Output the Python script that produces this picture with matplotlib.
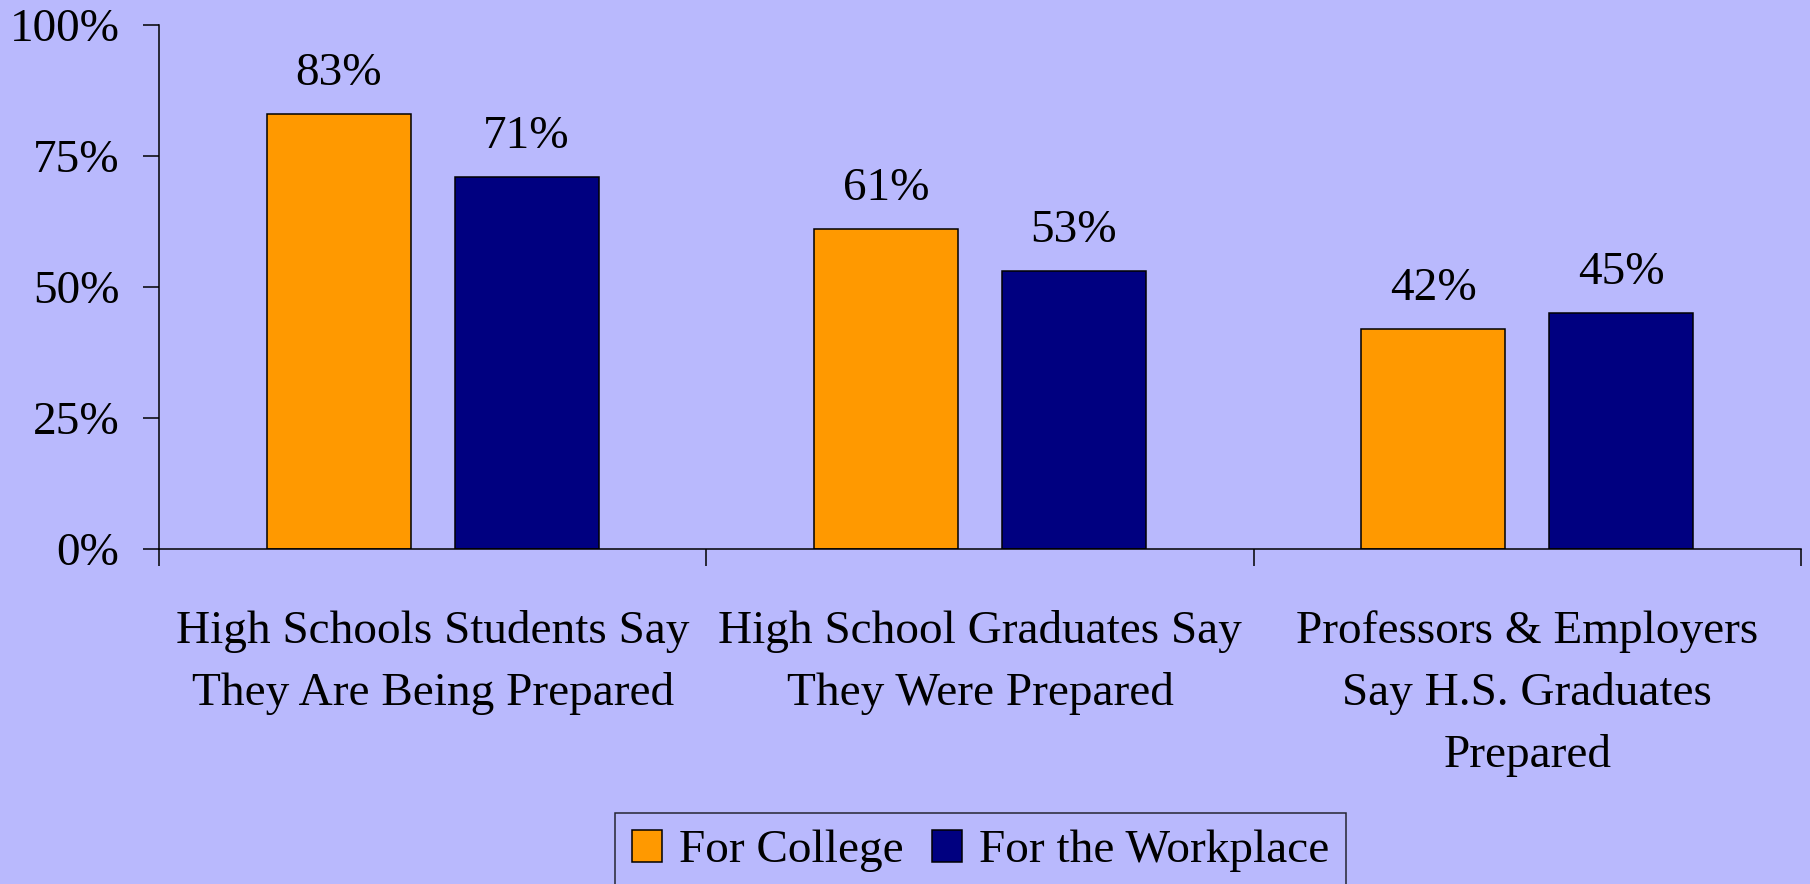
import matplotlib
matplotlib.use("Agg")
import matplotlib.pyplot as plt
import numpy as np

categories = [
    "High Schools Students Say\nThey Are Being Prepared",
    "High School Graduates Say\nThey Were Prepared",
    "Professors & Employers\nSay H.S. Graduates\nPrepared",
]
series_names = ["For College", "For the Workplace"]
college = [83, 61, 42]
workplace = [71, 53, 45]
yticks = [0, 25, 50, 75, 100]
ytick_labels = ["0%", "25%", "50%", "75%", "100%"]

bg = "#B9B9FD"
colors = ["#FF9900", "#000080"]

plt.rcParams["font.family"] = ["Liberation Serif", "DejaVu Serif"]
fs = 34

fig = plt.figure(figsize=(18.1, 8.84), dpi=100, facecolor=bg)
ax = fig.add_axes([159 / 1810, 1 - 549 / 884, (1801 - 159) / 1810, (549 - 25) / 884])
ax.set_facecolor(bg)

x = np.arange(len(categories))
width = 0.263
offset = 0.1717
for vals, off, col, name in zip([college, workplace], [-offset, offset], colors, series_names):
    bars = ax.bar(x + off, vals, width, color=col, edgecolor="black", linewidth=1.1, label=name)
    for b, v in zip(bars, vals):
        ax.annotate(f"{v}%", (b.get_x() + b.get_width() / 2, v), xytext=(0, 21),
                    textcoords="offset points", ha="center", va="baseline", fontsize=fs)

ax.set_xlim(-0.5, 2.5)
ax.set_ylim(0, 100)
ax.set_yticks(yticks)
ax.set_yticklabels(ytick_labels, fontsize=fs)
ax.tick_params(axis="y", direction="out", length=11.5, width=1.1, pad=17)

ax.set_xticks(x)
ax.set_xticklabels(categories, fontsize=fs, linespacing=1.57)
ax.set_xticks([-0.5, 0.5, 1.5, 2.5], minor=True)
ax.tick_params(axis="x", which="major", length=0, pad=44)
ax.tick_params(axis="x", which="minor", direction="out", length=12, width=1.1)

for s in ["top", "right"]:
    ax.spines[s].set_visible(False)
for s in ["left", "bottom"]:
    ax.spines[s].set_linewidth(1.1)

leg = fig.legend(loc="upper left", bbox_to_anchor=(615 / 1810, 1 - 813 / 884),
                 ncol=2, fontsize=fs, frameon=True, fancybox=False,
                 handlelength=0.635, handleheight=0.66, handletextpad=0.36,
                 columnspacing=0.6, borderpad=0.36, borderaxespad=0)
leg.get_frame().set_facecolor(bg)
leg.get_frame().set_edgecolor("black")
leg.get_frame().set_linewidth(1.1)

fig.savefig("out.png", dpi=100, facecolor=bg)
